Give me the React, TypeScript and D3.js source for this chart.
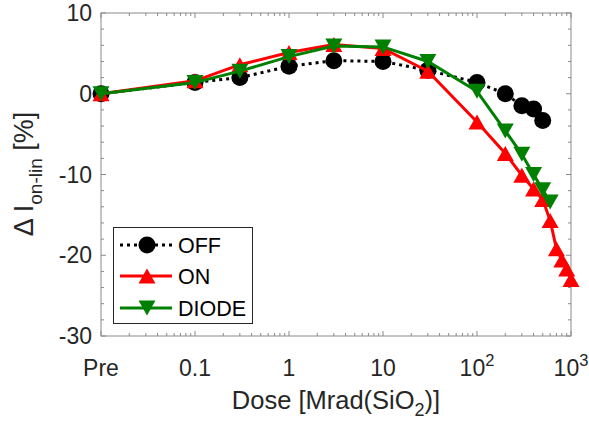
import React from "react";
import * as d3 from "d3";

// ---- data ----
const offDose = [0.01, 0.1, 0.3, 1, 3, 10, 30, 100, 200, 300, 400, 500];
const offVal = [0, 1.4, 2.0, 3.4, 4.1, 4.0, 2.9, 1.4, 0.0, -1.5, -1.9, -3.3];
const onDose = [0.01, 0.1, 0.3, 1, 3, 10, 30, 100, 200, 300, 400, 500, 600, 700, 800, 900, 1000];
const onVal = [0, 1.6, 3.6, 5.1, 6.1, 5.6, 2.8, -3.5, -7.4, -10.1, -11.8, -13.1, -15.7, -19.2, -20.6, -21.7, -23.0];
const diodeDose = [0.01, 0.1, 0.3, 1, 3, 10, 30, 100, 200, 300, 400, 500, 600];
const diodeVal = [0, 1.4, 2.8, 4.6, 5.9, 5.8, 4.0, 0.3, -4.6, -7.5, -10.0, -11.9, -13.4];
const xTickVals = [0.01, 0.1, 1, 10, 100, 1000];
const xTickLabels = [
  { base: "Pre", sup: "" },
  { base: "0.1", sup: "" },
  { base: "1", sup: "" },
  { base: "10", sup: "" },
  { base: "10", sup: "2" },
  { base: "10", sup: "3" },
];
const yTickVals = [10, 0, -10, -20, -30];
const legendNames = ["OFF", "ON", "DIODE"];

const FONT = "'Liberation Sans', Arial, Helvetica, sans-serif";
const AX = "#8a8a8a";
const TXT = "#262626";

function tri(cx: number, cy: number, up: boolean, w = 17, h = 15) {
  const s = up ? 1 : -1;
  return `M${cx},${cy - (s * h) / 2}L${cx + w / 2},${cy + (s * h) / 2}L${cx - w / 2},${cy + (s * h) / 2}Z`;
}

export default function App() {
  const L = 101, R = 571, T = 13, B = 336;
  const x = d3.scaleLog().domain([0.01, 1000]).range([L, R]);
  const y = d3.scaleLinear().domain([-30, 10]).range([B, T]);

  const mk = (ds: number[], vs: number[]) => ds.map((d, i) => [x(d), y(vs[i])] as [number, number]);
  const off = mk(offDose, offVal);
  const on = mk(onDose, onVal);
  const di = mk(diodeDose, diodeVal);
  const line = d3.line();

  const minorX: number[] = [];
  for (let e = -2; e < 3; e++) for (let k = 2; k <= 9; k++) minorX.push(k * Math.pow(10, e));
  const minorY: number[] = [];
  for (let v = -30; v <= 10; v += 2) if (v % 10 !== 0) minorY.push(v);

  const legRows = [245, 276, 308];

  return (
    <svg width={589} height={422} style={{ position: "absolute", left: 0, top: 0 }} fontFamily={FONT}>
      <rect x={0} y={0} width={589} height={422} fill="#fff" />
      <g stroke={AX} strokeWidth={1}>
        {xTickVals.map((v) => (
          <g key={"xM" + v}>
            <line x1={x(v)} x2={x(v)} y1={B} y2={B - 5} />
            <line x1={x(v)} x2={x(v)} y1={T} y2={T + 5} />
          </g>
        ))}
        {minorX.map((v) => (
          <g key={"xm" + v}>
            <line x1={x(v)} x2={x(v)} y1={B} y2={B - 3} />
            <line x1={x(v)} x2={x(v)} y1={T} y2={T + 3} />
          </g>
        ))}
        {yTickVals.map((v) => (
          <g key={"yM" + v}>
            <line x1={L} x2={L + 5} y1={y(v)} y2={y(v)} />
            <line x1={R} x2={R - 5} y1={y(v)} y2={y(v)} />
          </g>
        ))}
        {minorY.map((v) => (
          <g key={"ym" + v}>
            <line x1={L} x2={L + 3} y1={y(v)} y2={y(v)} />
            <line x1={R} x2={R - 3} y1={y(v)} y2={y(v)} />
          </g>
        ))}
        <rect x={L} y={T} width={R - L} height={B - T} fill="none" />
      </g>

      {yTickVals.map((v) => (
        <text key={"yl" + v} x={92} y={y(v)} dy="0.35em" textAnchor="end" fontSize={23} fill={TXT}>
          {v}
        </text>
      ))}
      {xTickVals.map((v, i) => (
        <text key={"xl" + v} x={x(v)} y={376} textAnchor="middle" fontSize={23} fill={TXT}>
          {xTickLabels[i].base}
          {xTickLabels[i].sup && (
            <tspan fontSize={16.5} dy={-10}>
              {xTickLabels[i].sup}
            </tspan>
          )}
        </text>
      ))}

      <text x={336} y={409} textAnchor="middle" fontSize={25.5} fill={TXT}>
        Dose [Mrad(SiO<tspan fontSize={18} dy={7}>2</tspan>
        <tspan dy={-7}>)]</tspan>
      </text>
      <text transform="translate(33,174) rotate(-90)" textAnchor="middle" fontSize={27} fill={TXT}>
        Δ I<tspan fontSize={19} dy={9}>on-lin</tspan>
        <tspan dy={-9}> [%]</tspan>
      </text>

      <path d={line(off) || ""} fill="none" stroke="#000" strokeWidth={3} strokeDasharray="3 4" />
      {off.map((p, i) => (
        <circle key={"o" + i} cx={p[0]} cy={p[1]} r={8.5} fill="#000" />
      ))}
      <path d={line(on) || ""} fill="none" stroke="#ff0000" strokeWidth={3} />
      {on.map((p, i) => (
        <path key={"n" + i} d={tri(p[0], p[1], true)} fill="#ff0000" />
      ))}
      <path d={line(di) || ""} fill="none" stroke="#008000" strokeWidth={3} />
      {di.map((p, i) => (
        <path key={"d" + i} d={tri(p[0], p[1], false)} fill="#008000" />
      ))}

      <rect x={113.5} y={227.5} width={139} height={96} fill="#fff" stroke="#262626" strokeWidth={1} />
      <line x1={120} x2={172} y1={legRows[0]} y2={legRows[0]} stroke="#000" strokeWidth={3} strokeDasharray="3 4" />
      <circle cx={147} cy={legRows[0]} r={8.5} fill="#000" />
      <line x1={120} x2={172} y1={legRows[1]} y2={legRows[1]} stroke="#ff0000" strokeWidth={3} />
      <path d={tri(147, legRows[1], true)} fill="#ff0000" />
      <line x1={120} x2={172} y1={legRows[2]} y2={legRows[2]} stroke="#008000" strokeWidth={3} />
      <path d={tri(147, legRows[2], false)} fill="#008000" />
      {legendNames.map((n, i) => (
        <text key={n} x={178} y={legRows[i]} dy="0.36em" fontSize={21.5} fill="#000">
          {n}
        </text>
      ))}
    </svg>
  );
}
